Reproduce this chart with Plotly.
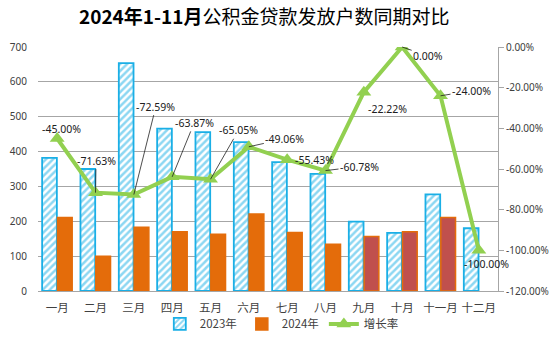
import plotly.graph_objects as go

months = ["一月", "二月", "三月", "四月", "五月", "六月", "七月", "八月", "九月", "十月", "十一月", "十二月"]
v2023 = [382, 350, 654, 466, 456, 427, 370, 336, 199, 167, 277, 180]
v2024 = [211, 100, 183, 170, 163, 221, 168, 134, 156, 170, 211, None]
growth = [-45.00, -71.63, -72.59, -63.87, -65.05, -49.06, -55.43, -60.78, -22.22, 0.00, -24.00, -100.00]
growth_labels = ["-45.00%", "-71.63%", "-72.59%", "-63.87%", "-65.05%", "-49.06%", "-55.43%",
                 "-60.78%", "-22.22%", "0.00%", "-24.00%", "-100.00%"]
left_ticks = [0, 100, 200, 300, 400, 500, 600, 700]
right_ticks = [0, -20, -40, -60, -80, -100, -120]
right_tick_labels = ["0.00%", "-20.00%", "-40.00%", "-60.00%", "-80.00%", "-100.00%", "-120.00%"]

# label placement: (dx, dy in pixels, leader line?)
label_pos = [(4, -10, False), (0.5, -32, True), (22, -88, True), (22, -54, True), (28, -49, True),
             (36, -8, True), (27, 0, False), (34, -4, True), (24, 17, False), (26, 9, True),
             (31, -5, True), (8, 14, False)]

orange = "#E46C0A"
red = "#C0504D"
blue = "#1AAFE6"
green = "#92D050"

c2024 = [orange] * 8 + [red] * 3 + [orange]

fig = go.Figure()
fig.add_trace(go.Bar(
    x=months, y=v2023, name="2023年",
    marker=dict(color="white", line=dict(color=blue, width=1.8),
                pattern=dict(shape="/", fgcolor=blue, bgcolor="white", size=5, solidity=0.5)),
))
fig.add_trace(go.Bar(
    x=months, y=v2024, name="2024年",
    marker=dict(color=c2024, line=dict(color=orange, width=1.5)),
))
fig.add_trace(go.Scatter(
    x=months, y=growth, name="增长率", yaxis="y2", mode="lines+markers",
    line=dict(color=green, width=4),
    marker=dict(symbol="triangle-up", size=13, color=green),
))

annotations = []
for m, g, lab, (dx, dy, arrow) in zip(months, growth, growth_labels, label_pos):
    if arrow:
        annotations.append(dict(x=m, y=g, xref="x", yref="y2", text=lab, showarrow=True,
                                ax=dx, ay=dy, arrowhead=0, arrowwidth=0.8, arrowcolor="#202020",
                                font=dict(family="Noto Sans", size=10.5, color="#202020")))
    else:
        annotations.append(dict(x=m, y=g, xref="x", yref="y2", text=lab, showarrow=False,
                                xshift=dx, yshift=-dy,
                                font=dict(family="Noto Sans", size=10.5, color="#202020")))

fig.update_layout(
    width=554, height=346,
    margin=dict(l=38, r=56, t=47, b=55, autoexpand=False),
    paper_bgcolor="white", plot_bgcolor="white",
    title=dict(text="<b>2024年1-11月</b>公积金贷款发放户数同期对比", x=0.477, xanchor="center",
               y=0.95, yanchor="middle",
               font=dict(family="Noto Sans CJK SC", size=19, color="#000000")),
    barmode="group", bargap=0.2, bargroupgap=0.04,
    xaxis=dict(range=[-0.5, 11.5], showgrid=False, showline=True, linecolor="#A6A6A6", linewidth=1,
               tickangle=0, automargin=False, ticklabelstandoff=6,
               tickfont=dict(family="Noto Sans CJK SC", size=11.5, color="#404040"), ticks=""),
    yaxis=dict(range=[0, 700], tickvals=left_ticks, showgrid=True, gridcolor="#A6A6A6",
               gridwidth=1, zeroline=False, showline=False, automargin=False,
               ticklabelstandoff=10,
               tickfont=dict(family="Noto Sans", size=10, color="#404040")),
    yaxis2=dict(range=[-120, 0], overlaying="y", side="right", tickvals=right_ticks,
                ticktext=right_tick_labels, showgrid=False, zeroline=False, automargin=False,
                showline=True, linecolor="#A6A6A6", ticks="outside", ticklen=5, tickcolor="#A6A6A6",
                tickfont=dict(family="Noto Sans", size=10, color="#404040")),
    legend=dict(orientation="h", x=0.53, xanchor="center", y=-0.135, yanchor="middle",
                bgcolor="rgba(0,0,0,0)",
                font=dict(family="Noto Sans CJK SC", size=11.5, color="#404040")),
    annotations=annotations,
    showlegend=True,
)

fig.write_html("out.html")
